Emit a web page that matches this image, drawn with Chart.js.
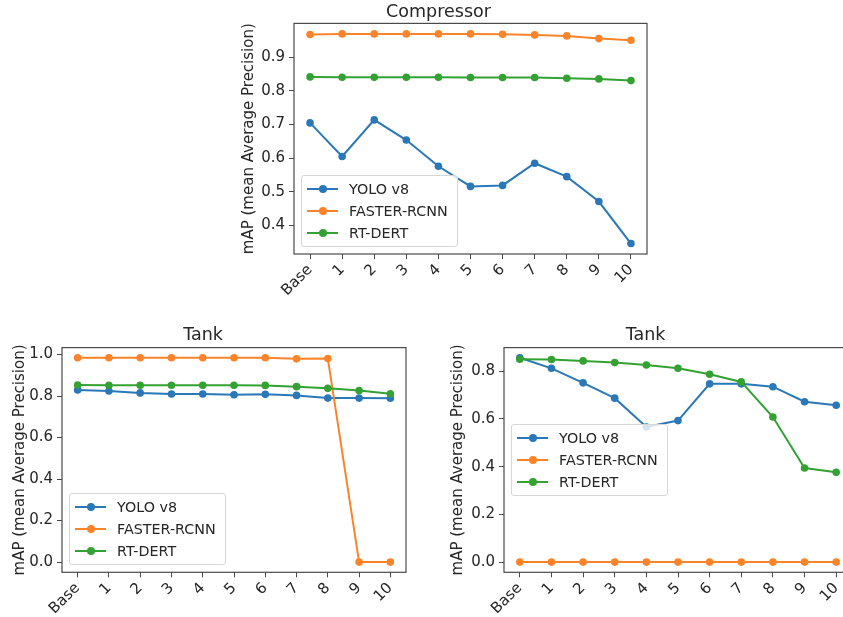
<!DOCTYPE html>
<html>
<head>
<meta charset="utf-8">
<script src="https://cdn.jsdelivr.net/npm/chart.js@4.4.1/dist/chart.umd.min.js"></script>
<style>
  html, body { margin: 0; padding: 0; background: #fff; }
  body { width: 843px; height: 617px; overflow: hidden; position: relative; }
  .panel { position: absolute; }
  .panel canvas { display: block; }
  .legend {
    position: absolute;
    background: rgba(255, 255, 255, 0.8);
    border: 1px solid #d6d6d6;
    border-radius: 3px;
    padding: 2px 9px 2px 5px;
    font: 14.3px "DejaVu Sans", sans-serif;
    color: #262626;
    white-space: nowrap;
  }
  .legend .row { height: 22px; display: flex; align-items: center; }
  .legend .handle { position: relative; width: 31px; height: 2px; margin-right: 11px; }
  .legend .dot { position: absolute; left: 12px; top: -3px; width: 8px; height: 8px; border-radius: 50%; }
</style>
</head>
<body>
<div class="panel" style="left:230px; top:0px;"><canvas id="compressor" width="430" height="300"></canvas></div>
<div class="panel" style="left:0px; top:310px;"><canvas id="tankA" width="420" height="307"></canvas></div>
<div class="panel" style="left:439px; top:310px;"><canvas id="tankB" width="421" height="307"></canvas></div>
<script>
// data
const stages = ["Base", "1", "2", "3", "4", "5", "6", "7", "8", "9", "10"];
const seriesNames = ["YOLO v8", "FASTER-RCNN", "RT-DERT"];
const seriesColors = ["#2a78b8", "#fb842a", "#33a233"];

const compYolo = [0.705, 0.605, 0.714, 0.654, 0.576, 0.516, 0.519, 0.585, 0.545, 0.471, 0.346];
const compFaster = [0.968, 0.970, 0.970, 0.970, 0.970, 0.970, 0.969, 0.967, 0.964, 0.956, 0.951];
const compRtdert = [0.842, 0.841, 0.841, 0.841, 0.841, 0.840, 0.840, 0.840, 0.838, 0.836, 0.831];
const compTicks = [0.4, 0.5, 0.6, 0.7, 0.8, 0.9];

const tankAYolo = [0.829, 0.824, 0.815, 0.810, 0.810, 0.806, 0.808, 0.803, 0.790, 0.790, 0.789];
const tankAFaster = [0.984, 0.984, 0.984, 0.984, 0.984, 0.984, 0.984, 0.979, 0.981, 0.0, 0.0];
const tankARtdert = [0.853, 0.852, 0.852, 0.852, 0.852, 0.852, 0.851, 0.845, 0.837, 0.826, 0.811];
const tankATicks = [0.0, 0.2, 0.4, 0.6, 0.8, 1.0];

const tankBYolo = [0.856, 0.812, 0.751, 0.687, 0.566, 0.593, 0.747, 0.747, 0.735, 0.672, 0.657];
const tankBFaster = [0, 0, 0, 0, 0, 0, 0, 0, 0, 0, 0];
const tankBRtdert = [0.850, 0.849, 0.843, 0.836, 0.826, 0.812, 0.787, 0.755, 0.608, 0.394, 0.376];
const tankBTicks = [0.0, 0.2, 0.4, 0.6, 0.8];

const FONT = '"DejaVu Sans", sans-serif';
const TEXT = "#262626";
const SPINE = "#4a4a4a";

Chart.defaults.font.family = FONT;
Chart.defaults.color = TEXT;

// matplotlib-style box around the axes
const framePlugin = {
  id: "frame",
  afterDatasetsDraw(chart) {
    const { ctx, chartArea: a } = chart;
    ctx.save();
    ctx.strokeStyle = SPINE;
    ctx.lineWidth = 1.2;
    ctx.strokeRect(a.left, a.top, a.right - a.left, a.bottom - a.top);
    ctx.restore();
  },
};

// html legend, boxed like matplotlib's
function addLegend(chart, loc) {
  const panel = chart.canvas.parentNode;
  const box = document.createElement("div");
  box.className = "legend";
  chart.data.datasets.forEach((ds) => {
    const row = document.createElement("div");
    row.className = "row";
    const handle = document.createElement("span");
    handle.className = "handle";
    handle.style.background = ds.borderColor;
    const dot = document.createElement("span");
    dot.className = "dot";
    dot.style.background = ds.borderColor;
    handle.appendChild(dot);
    row.appendChild(handle);
    row.appendChild(document.createTextNode(ds.label));
    box.appendChild(row);
  });
  panel.appendChild(box);
  const a = chart.chartArea;
  box.style.left = a.left + 7 + "px";
  if (loc === "lower left") {
    box.style.top = a.bottom - 7 - box.offsetHeight + "px";
  } else {
    box.style.top = (a.top + a.bottom) / 2 - box.offsetHeight / 2 + "px";
  }
}

function makeChart(id, title, yolo, faster, rtdert, yTicks, geo) {
  const all = yolo.concat(faster, rtdert);
  const lo = Math.min(...all);
  const hi = Math.max(...all);
  const pad = (hi - lo) * 0.05;
  const series = [yolo, faster, rtdert];

  const chart = new Chart(document.getElementById(id), {
    type: "line",
    data: {
      labels: stages,
      datasets: series.map((values, i) => ({
        label: seriesNames[i],
        data: values,
        borderColor: seriesColors[i],
        backgroundColor: seriesColors[i],
        borderWidth: 2,
        pointRadius: 3.8,
        pointBorderWidth: 0,
        fill: false,
        tension: 0,
        order: 2 - i,
      })),
    },
    options: {
      responsive: false,
      animation: false,
      layout: { autoPadding: false, padding: { left: 0, right: geo.right, top: 0, bottom: 0 } },
      plugins: {
        legend: { display: false },
        tooltip: { enabled: false },
        title: {
          display: true,
          text: title,
          color: TEXT,
          font: { size: 17.5, weight: "normal", family: FONT },
          padding: { top: geo.titleTop, bottom: geo.titleBottom },
        },
      },
      scales: {
        x: {
          offset: true,
          grid: { drawOnChartArea: false, drawTicks: true, tickLength: 5, color: SPINE, offset: false },
          border: { display: false },
          ticks: {
            autoSkip: false,
            minRotation: 45,
            maxRotation: 45,
            padding: 2,
            color: TEXT,
            font: { size: 15, family: FONT },
          },
          afterFit: (axis) => {
            axis.height = geo.xAxisHeight;
          },
        },
        y: {
          min: lo - pad,
          max: hi + pad,
          grid: { drawOnChartArea: false, drawTicks: true, tickLength: 5, color: SPINE },
          border: { display: false },
          ticks: {
            padding: 4,
            color: TEXT,
            font: { size: 15, family: FONT },
            callback: (v) => Number(v).toFixed(1),
          },
          afterBuildTicks: (axis) => {
            axis.ticks = yTicks.map((v) => ({ value: v }));
          },
          title: {
            display: true,
            text: "mAP (mean Average Precision)",
            color: TEXT,
            font: { size: 15, family: FONT },
            padding: { top: geo.yTitlePad, bottom: 0 },
          },
          afterFit: (axis) => {
            axis.width = geo.yAxisWidth;
          },
        },
      },
    },
    plugins: [framePlugin],
  });
  addLegend(chart, geo.legend);
  return chart;
}

makeChart("compressor", "Compressor", compYolo, compFaster, compRtdert, compTicks, {
  right: 13, titleTop: 2, titleBottom: 0.4, xAxisHeight: 46, yAxisWidth: 64, yTitlePad: 10, legend: "lower left",
});
makeChart("tankA", "Tank", tankAYolo, tankAFaster, tankARtdert, tankATicks, {
  right: 14, titleTop: 15, titleBottom: 1.6, xAxisHeight: 44.7, yAxisWidth: 62, yTitlePad: 11, legend: "lower left",
});
makeChart("tankB", "Tank", tankBYolo, tankBFaster, tankBRtdert, tankBTicks, {
  right: 8, titleTop: 15, titleBottom: 1.6, xAxisHeight: 44.7, yAxisWidth: 65, yTitlePad: 10, legend: "center left",
});
</script>
</body>
</html>
